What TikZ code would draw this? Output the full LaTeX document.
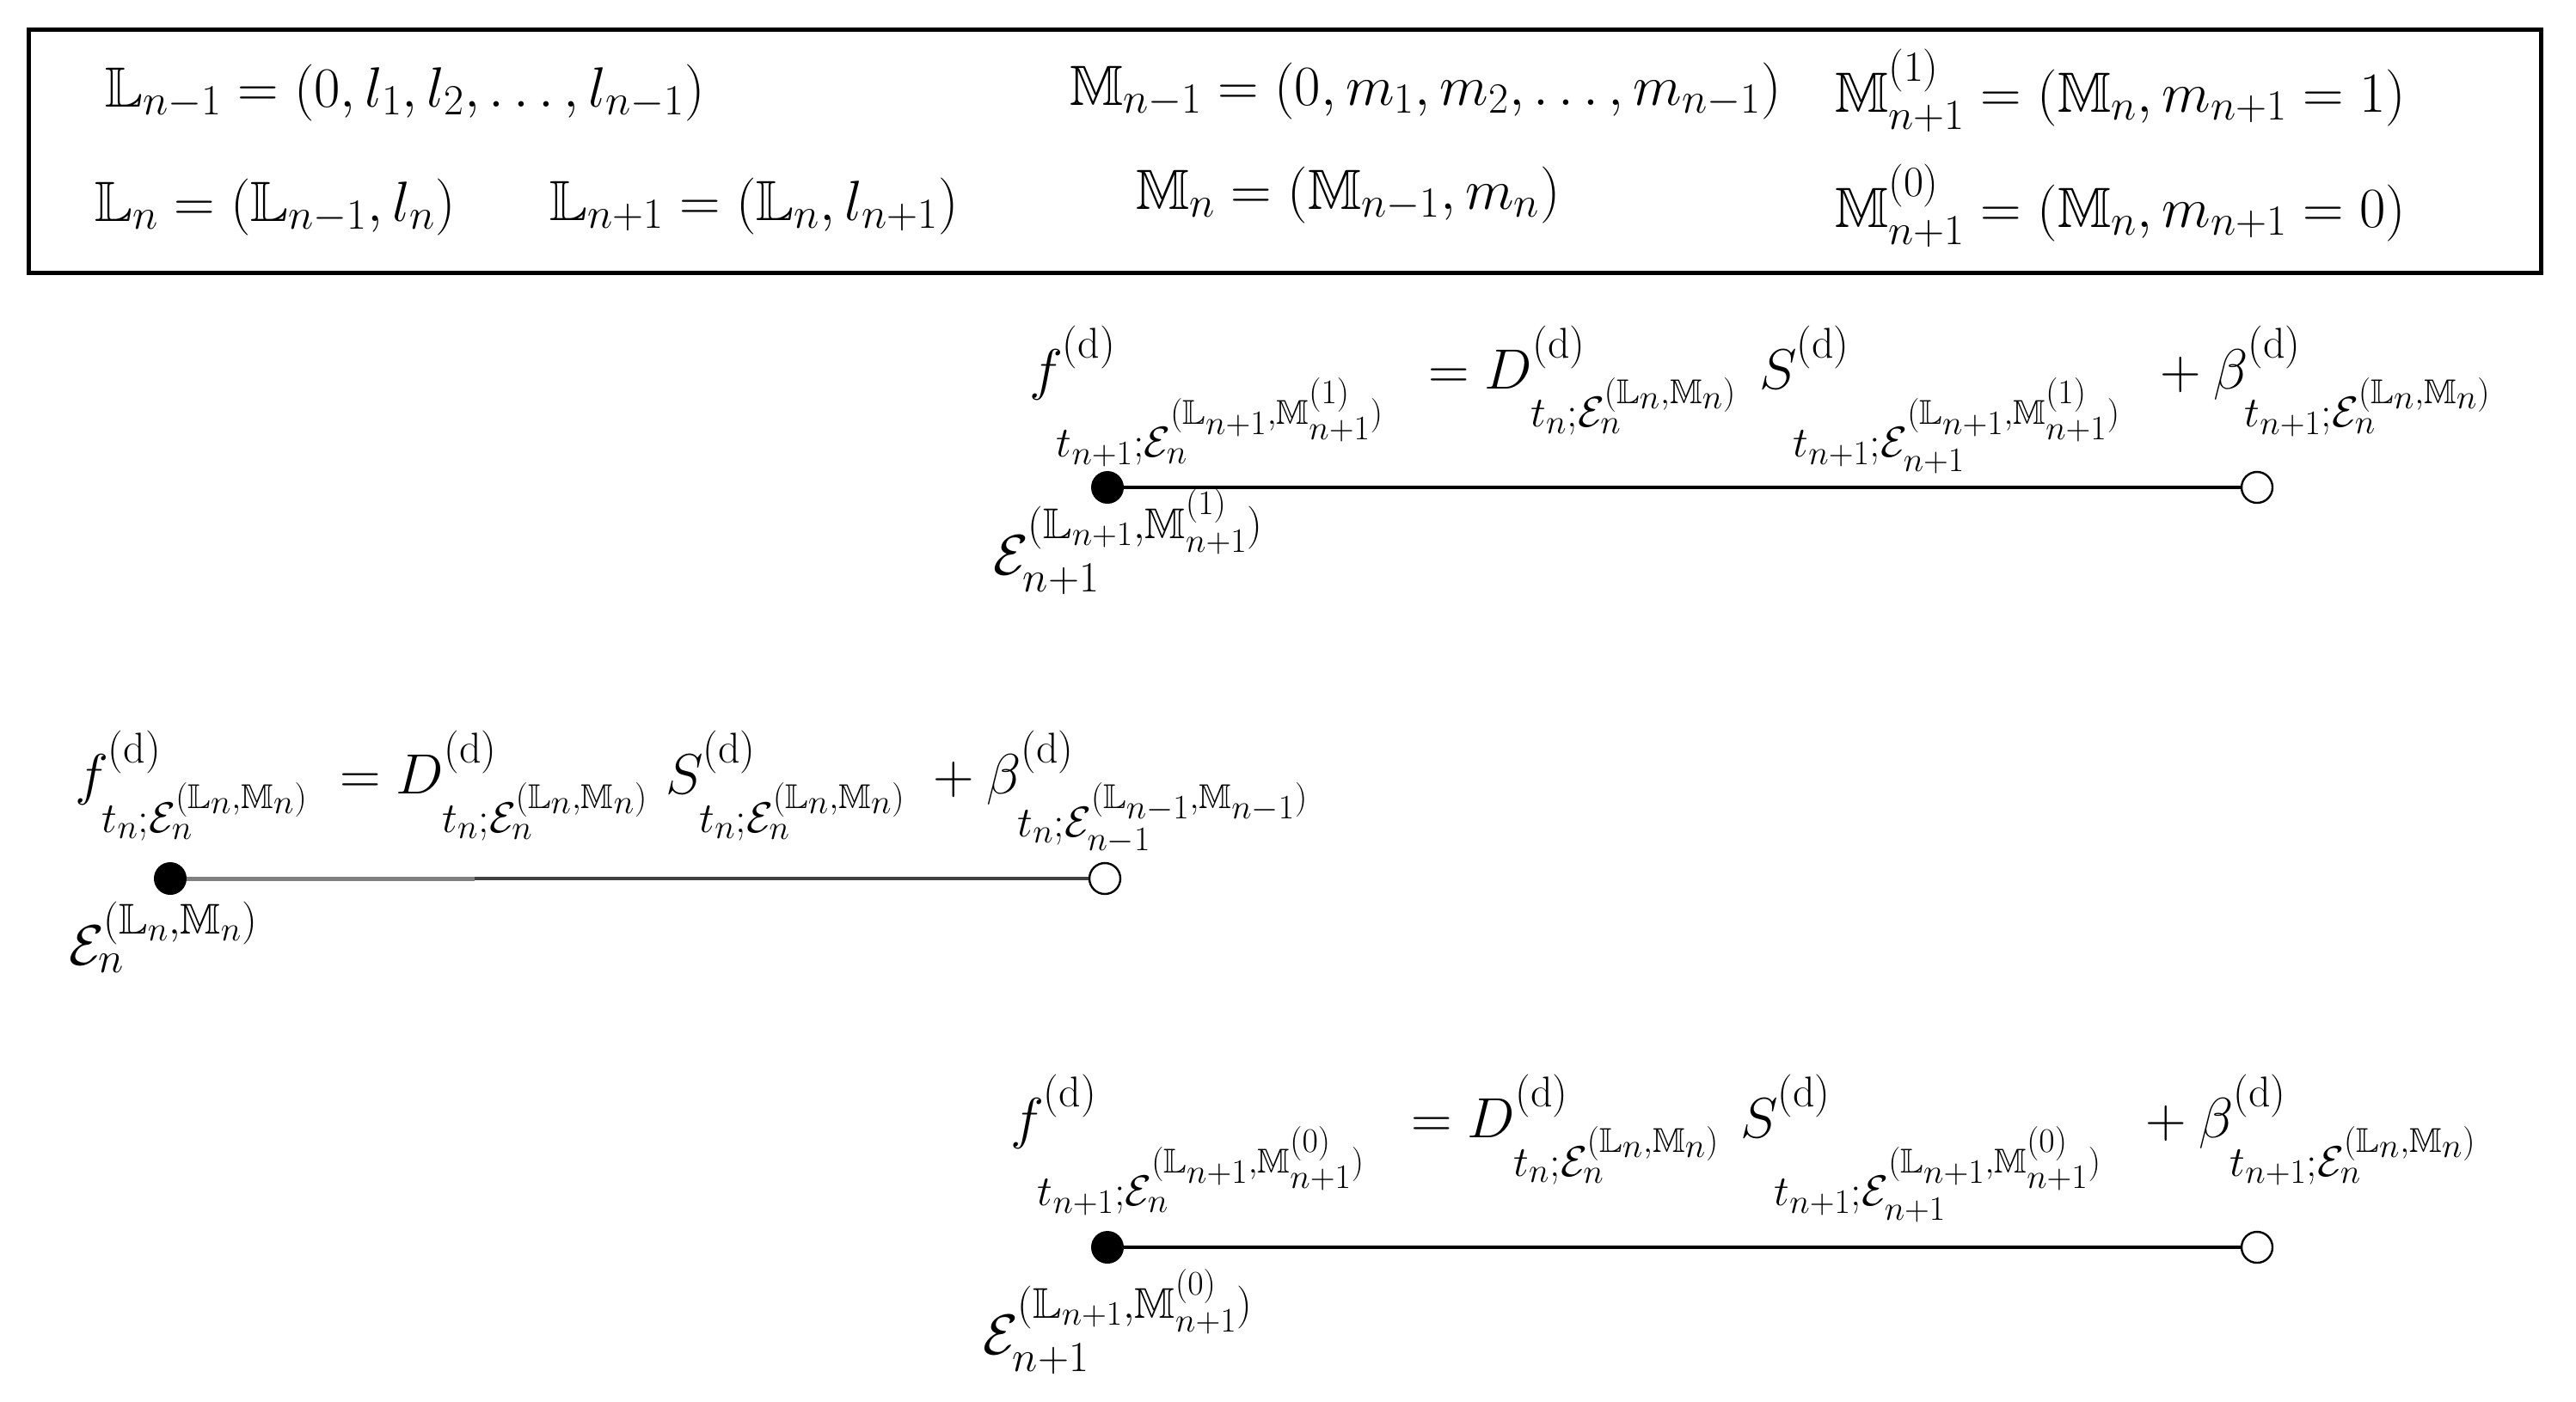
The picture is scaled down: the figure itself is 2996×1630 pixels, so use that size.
\RequirePackage{fix-cm}
\documentclass[tikz,border=0pt]{standalone}
\usepackage{amssymb}
\DeclareMathSizes{33}{33}{25}{20}
\tikzset{
  eq/.style={anchor=base west, inner sep=0pt, outer sep=0pt, font=\fontsize{33}{40}\selectfont},
  dotfull/.style={circle, fill=black, draw=black, line width=1pt, minimum size=18pt, inner sep=0pt},
  dotopen/.style={circle, fill=white, draw=black, line width=1.2pt, minimum size=18pt, inner sep=0pt},
  tline/.style={line width=2pt, black},
  frame/.style={line width=2.5pt, black}
}
\newcommand{\Dd}{(\mathrm{d})}
\begin{document}
\begin{tikzpicture}[x=0.5pt,y=-0.5pt]
\useasboundingbox (0,0) rectangle (2996,1630);
% frame
\draw[frame] (33,34) rectangle (2955,317);
% definitions
\node[eq] (L1) at (122,124) {$\mathbb{L}_{n-1}=(0,l_1,l_2,\ldots,l_{n-1})$};
\node[eq] (M1) at (1244,122) {$\mathbb{M}_{n-1}=(0,m_1,m_2,\ldots,m_{n-1})$};
\node[eq] (Mp1) at (2134,130) {$\mathbb{M}^{(1)}_{n+1}=(\mathbb{M}_n,m_{n+1}=1)$};
\node[eq] (L2) at (110,257) {$\mathbb{L}_{n}=(\mathbb{L}_{n-1},l_n)$};
\node[eq] (L3) at (639,256) {$\mathbb{L}_{n+1}=(\mathbb{L}_{n},l_{n+1})$};
\node[eq] (M2) at (1321,243) {$\mathbb{M}_{n}=(\mathbb{M}_{n-1},m_n)$};
\node[eq] (Mp0) at (2134,264) {$\mathbb{M}^{(0)}_{n+1}=(\mathbb{M}_n,m_{n+1}=0)$};
% top equation
\node[eq] (tf) at (1197,452) {$f^{\Dd}_{t_{n+1};\mathcal{E}_n^{(\mathbb{L}_{n+1},\mathbb{M}^{(1)}_{n+1})}}$};
\node[eq] (tD) at (1661,452) {$=D^{\Dd}_{t_n;\mathcal{E}_n^{(\mathbb{L}_n,\mathbb{M}_n)}}$};
\node[eq] (tS) at (2046,452) {$S^{\Dd}_{t_{n+1};\mathcal{E}_{n+1}^{(\mathbb{L}_{n+1},\mathbb{M}^{(1)}_{n+1})}}$};
\node[eq] (tB) at (2512,452) {$+\mskip\medmuskip\beta^{\Dd}_{t_{n+1};\mathcal{E}_n^{(\mathbb{L}_n,\mathbb{M}_n)}}$};
\node[dotfull] (ta) at (1288,567) {};
\node[dotopen] (tb) at (2625,567) {};
\draw[tline] (ta) -- (tb);
\node[eq] (tE) at (1155,668) {$\mathcal{E}_{n+1}^{(\mathbb{L}_{n+1},\mathbb{M}^{(1)}_{n+1})}$};
% middle equation
\node[eq] (mf) at (87,923) {$f^{\Dd}_{t_n;\mathcal{E}_n^{(\mathbb{L}_n,\mathbb{M}_n)}}$};
\node[eq] (mD) at (395,923) {$=D^{\Dd}_{t_n;\mathcal{E}_n^{(\mathbb{L}_n,\mathbb{M}_n)}}$};
\node[eq] (mS) at (774,923) {$S^{\Dd}_{t_n;\mathcal{E}_n^{(\mathbb{L}_n,\mathbb{M}_n)}}$};
\node[eq] (mB) at (1085,923) {$+\mskip\medmuskip\beta^{\Dd}_{t_n;\mathcal{E}_{n-1}^{(\mathbb{L}_{n-1},\mathbb{M}_{n-1})}}$};
\node[dotfull] (ma) at (198,1022) {};
\node[dotopen] (mb) at (1285,1022) {};
\coordinate (mm) at (552,1022);
\draw[line width=2.5pt, black!50] (ma) -- (mm);
\draw[line width=2pt, black!75] (mm) -- (mb);
\node[eq] (mE) at (80,1122) {$\mathcal{E}_{n}^{(\mathbb{L}_{n},\mathbb{M}_{n})}$};
% bottom equation
\node[eq] (bf) at (1175,1323) {$f^{\Dd}_{t_{n+1};\mathcal{E}_n^{(\mathbb{L}_{n+1},\mathbb{M}^{(0)}_{n+1})}}$};
\node[eq] (bD) at (1641,1323) {$=D^{\Dd}_{t_n;\mathcal{E}_n^{(\mathbb{L}_n,\mathbb{M}_n)}}$};
\node[eq] (bS) at (2024,1323) {$S^{\Dd}_{t_{n+1};\mathcal{E}_{n+1}^{(\mathbb{L}_{n+1},\mathbb{M}^{(0)}_{n+1})}}$};
\node[eq] (bB) at (2495,1323) {$+\mskip\medmuskip\beta^{\Dd}_{t_{n+1};\mathcal{E}_n^{(\mathbb{L}_n,\mathbb{M}_n)}}$};
\node[dotfull] (ba) at (1288,1451) {};
\node[dotopen] (bb) at (2625,1451) {};
\draw[tline] (ba) -- (bb);
\node[eq] (bE) at (1143,1575) {$\mathcal{E}_{n+1}^{(\mathbb{L}_{n+1},\mathbb{M}^{(0)}_{n+1})}$};
\end{tikzpicture}
\end{document}
